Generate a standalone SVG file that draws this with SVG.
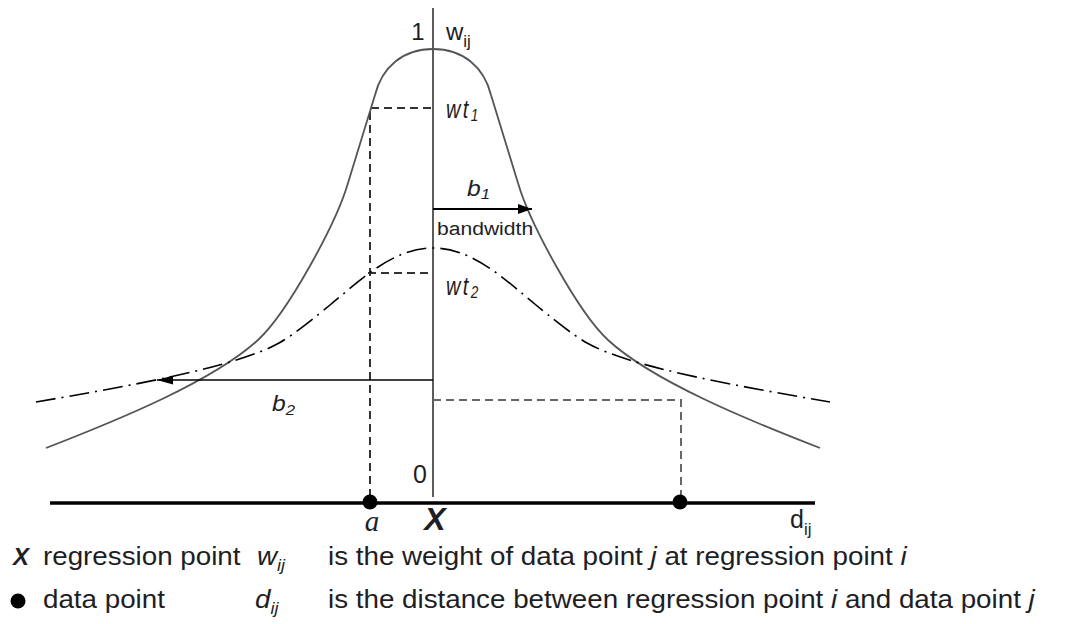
<svg xmlns="http://www.w3.org/2000/svg" width="1067" height="624" viewBox="0 0 1067 624">
<style>
text{font-family:"Liberation Sans",Arial,sans-serif;fill:#1e1e24}
.it{font-style:italic}
.guide{fill:none;stroke:#333;stroke-width:2;stroke-dasharray:8 5}
.guide2{fill:none;stroke:#666;stroke-width:2;stroke-dasharray:8 5}
</style>
<defs>
<marker id="ah" viewBox="0 0 14 10" refX="14" refY="5" markerWidth="14" markerHeight="10" markerUnits="userSpaceOnUse" orient="auto">
<path d="M0,0 L14,5 L0,10 Z" fill="#000"/>
</marker>
<marker id="ah2" viewBox="0 0 16 9" refX="16" refY="4.5" markerWidth="16" markerHeight="9" markerUnits="userSpaceOnUse" orient="auto">
<path d="M0,0 L16,4.5 L0,9 Z" fill="#000"/>
</marker>
</defs>
<rect width="1067" height="624" fill="#fff"/>

<g id="axes">
<line x1="433" y1="8" x2="433" y2="497" stroke="#333" stroke-width="1.6"/>
<line x1="50" y1="503" x2="815" y2="503" stroke="#000" stroke-width="3.5"/>
</g>

<g id="guides">
<path class="guide" d="M370,497 V108 H433"/>
<path class="guide" d="M368,273 H433"/>
<path class="guide2" d="M433,400 H681 V497"/>
</g>

<g id="kernel1">
<path d="M46,448 C120.4,419.2 213.6,380.8 258,340 C287.6,312.8 336.4,223 348,183 C357,154 366,124 375,95 C382,67 403,49 433,49 C463,49 484,67 491,95 C500,124 509,154 518,183 C529.6,223 578.4,312.8 608,340 C652.4,380.8 745.6,419.2 820,448" fill="none" stroke="#555" stroke-width="1.8"/>
</g>
<g id="kernel2">
<path d="M36,402 C124.7,386.7 235.5,367.5 279,343 C294.7,334.2 316.1,316.3 330,305 C360.8,279.8 393,248 433,248 C473,248 505.2,279.8 536,305 C549.9,316.3 571.3,334.2 587,343 C630.5,367.5 741.3,386.7 830,402" fill="none" stroke="#000" stroke-width="1.6" stroke-dasharray="20 6 2 6"/>
</g>

<g id="connectors">
<line x1="433" y1="209" x2="532" y2="209" stroke="#000" stroke-width="2" marker-end="url(#ah)"/>
<line x1="433" y1="380" x2="157" y2="380" stroke="#000" stroke-width="1.5" marker-end="url(#ah2)"/>
</g>

<g id="points">
<circle cx="370" cy="502" r="7.5" fill="#000"/>
<circle cx="680" cy="502" r="7.5" fill="#000"/>
</g>

<g id="labels">
<text x="418" y="40" font-size="24" text-anchor="middle" fill="#22406e">1</text>
<text x="446" y="40" font-size="24">w<tspan font-size="17" dy="7">ij</tspan></text>
<text transform="translate(446,118) scale(0.8,1)" font-size="25" class="it" letter-spacing="3">wt<tspan font-size="17" dy="3">1</tspan></text>
<text transform="translate(446,295) scale(0.8,1)" font-size="25" class="it" letter-spacing="3">wt<tspan font-size="17" dy="3">2</tspan></text>
<text transform="translate(467,196) scale(1.12,1)" font-size="22" class="it">b<tspan font-size="15" dy="3">1</tspan></text>
<text transform="translate(437,235) scale(1.11,1)" font-size="19">bandwidth</text>
<text transform="translate(272,411) scale(1.12,1)" font-size="22" class="it">b<tspan font-size="15" dy="4">2</tspan></text>
<text x="420" y="483" font-size="25" text-anchor="middle" fill="#22406e">0</text>
<text x="372" y="531" font-size="29" text-anchor="middle" style="font-family:'Liberation Serif','Times New Roman',serif;font-style:italic">a</text>
<text x="435" y="530" font-size="32" text-anchor="middle" font-weight="bold" class="it">X</text>
<text x="790" y="528" font-size="25" fill="#22406e">d<tspan font-size="17" dy="7">ij</tspan></text>
</g>

<g id="legend">
<text x="13" y="565" font-size="24" font-weight="bold" class="it">X</text>
<text transform="translate(43,565) scale(1.111,1)" font-size="25">regression point</text>
<text transform="translate(257,565) scale(1.111,1)" font-size="25" class="it">w<tspan font-size="16" dy="6">ij</tspan></text>
<text transform="translate(328,565) scale(1.111,1)" font-size="25">is the weight of data point <tspan class="it">j</tspan> at regression point <tspan class="it">i</tspan></text>
<circle cx="18" cy="601" r="7.5" fill="#000"/>
<text transform="translate(43,608) scale(1.111,1)" font-size="25">data point</text>
<text transform="translate(255,608) scale(1.111,1)" font-size="25" class="it">d<tspan font-size="16" dy="6">ij</tspan></text>
<text transform="translate(328,608) scale(1.111,1)" font-size="25">is the distance between regression point <tspan class="it">i</tspan> and data point <tspan class="it">j</tspan></text>
</g>
</svg>
